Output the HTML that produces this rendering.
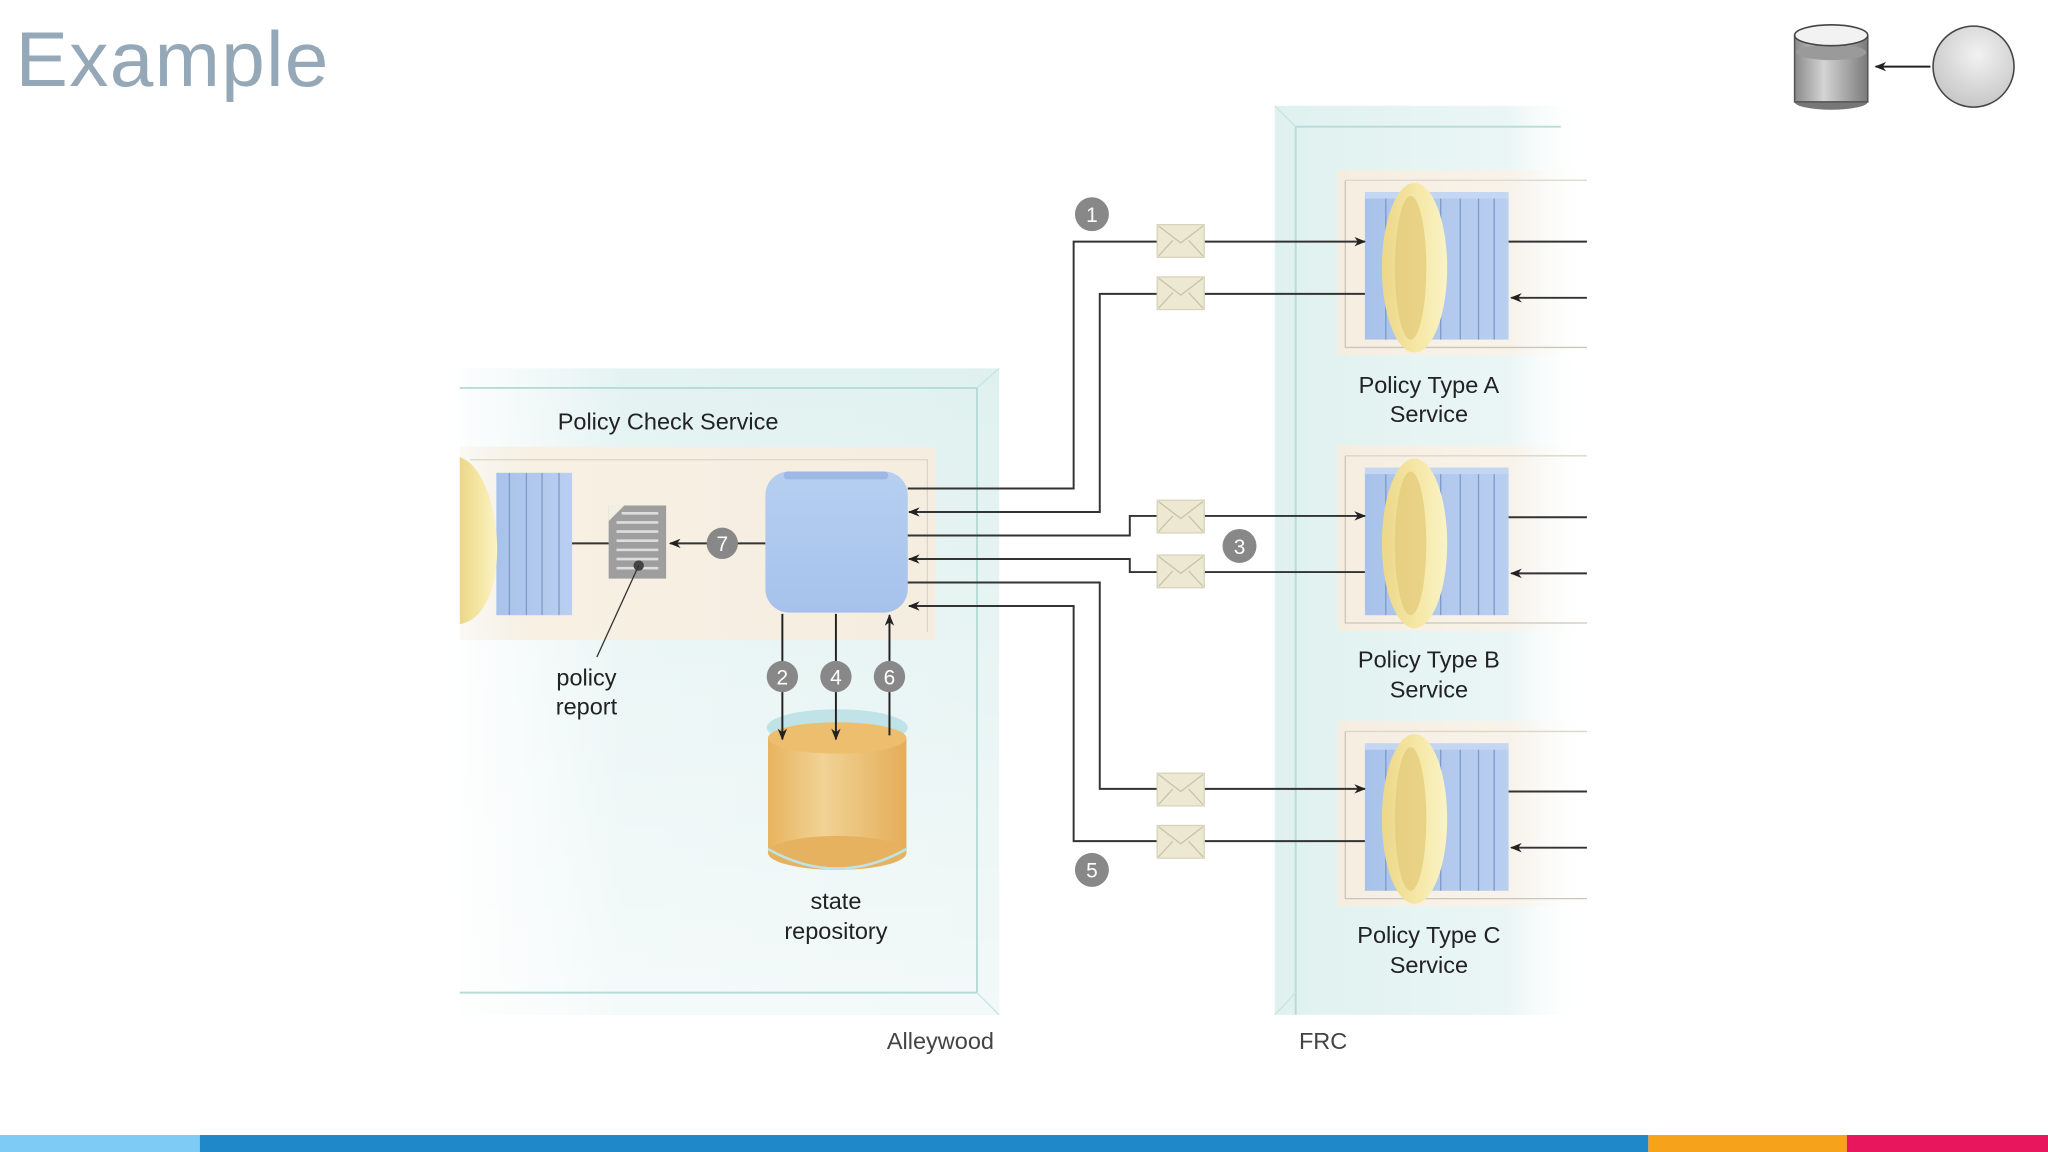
<!DOCTYPE html>
<html><head><meta charset="utf-8"><style>
html,body{margin:0;padding:0;background:#fff;}
svg{display:block;}
text{font-family:"Liberation Sans",sans-serif;}
</style></head><body>
<svg width="2048" height="1152" viewBox="0 0 1568 882" xmlns="http://www.w3.org/2000/svg">
<defs>
<linearGradient id="tealL" x1="0" x2="1" y1="0" y2="0">
<stop offset="0" stop-color="#e6f4f3" stop-opacity="0.1"/><stop offset="0.3" stop-color="#e4f3f2"/><stop offset="1" stop-color="#dff1ef"/></linearGradient>
<linearGradient id="tealR" x1="0" x2="1"><stop offset="0" stop-color="#dff1ef"/><stop offset="0.75" stop-color="#eaf6f5"/><stop offset="1" stop-color="#fff" stop-opacity="0"/></linearGradient>
<linearGradient id="tealV" x1="0" x2="0" y1="0" y2="1"><stop offset="0" stop-color="#fff" stop-opacity="0"/><stop offset="1" stop-color="#fff" stop-opacity="0.6"/></linearGradient>
<linearGradient id="beigeL" x1="0" x2="1"><stop offset="0" stop-color="#f6efe2" stop-opacity="0.3"/><stop offset="0.15" stop-color="#f7f0e3"/><stop offset="1" stop-color="#f5ede0"/></linearGradient>
<linearGradient id="beigeR" x1="0" x2="1"><stop offset="0" stop-color="#f5ede0"/><stop offset="0.7" stop-color="#f8f3ea"/><stop offset="1" stop-color="#fff" stop-opacity="0"/></linearGradient>
<linearGradient id="blueBox" x1="0" x2="0" y1="0" y2="1"><stop offset="0" stop-color="#b6cff1"/><stop offset="1" stop-color="#a6c2ec"/></linearGradient>
<linearGradient id="stack" x1="0" x2="1"><stop offset="0" stop-color="#a9c2ea"/><stop offset="1" stop-color="#b9cff0"/></linearGradient>
<linearGradient id="ring" x1="0" x2="1"><stop offset="0" stop-color="#ecd78a"/><stop offset="0.6" stop-color="#f6e9a8"/><stop offset="1" stop-color="#faf3c8"/></linearGradient>
<linearGradient id="orange" x1="0" x2="1"><stop offset="0" stop-color="#e8b35e"/><stop offset="0.4" stop-color="#f0d396"/><stop offset="1" stop-color="#e5ad57"/></linearGradient>
<linearGradient id="grayCyl" x1="0" x2="1"><stop offset="0" stop-color="#8a8a8a"/><stop offset="0.4" stop-color="#d4d4d4"/><stop offset="1" stop-color="#7a7a7a"/></linearGradient>
<radialGradient id="sphere" cx="0.55" cy="0.35" r="0.7"><stop offset="0" stop-color="#f2f2f2"/><stop offset="1" stop-color="#c4c4c4"/></radialGradient>
<marker id="ah" viewBox="0 0 10 10" refX="9" refY="5" markerWidth="9" markerHeight="9" orient="auto-start-reverse" markerUnits="userSpaceOnUse"><path d="M0,1 L10,5 L0,9 L3,5 z" fill="#222"/></marker>
<g id="env"><rect x="0" y="0" width="36" height="25" fill="#ede8d2" stroke="#d8d3bb" stroke-width="1"/><path d="M1,1 L18,14 L35,1 M1,24 L12,12 M35,24 L24,12" fill="none" stroke="#c9c4a8" stroke-width="1"/></g>
<g id="svc">
<rect x="1024" y="0" width="191" height="142" fill="url(#beigeR)"/>
<path d="M1030,8 V136 H1215" fill="none" stroke="#ccc6b8" stroke-width="1"/>
<path d="M1030,8 H1215" stroke="#ddd6c8" stroke-width="1"/>
<rect x="1045" y="20" width="110" height="110" fill="url(#stack)"/>
<path d="M1061,20v110 M1076,20v110 M1103,20v110 M1118,20v110 M1132,20v110 M1144,20v110" stroke="#7f9acb" stroke-width="1"/>
<rect x="1045" y="17" width="110" height="5" fill="#c5d6f2"/>
<ellipse cx="1083" cy="75" rx="25" ry="65" fill="url(#ring)"/>
<ellipse cx="1080" cy="75" rx="12" ry="55" fill="#e3c978" opacity="0.7"/>
</g>
</defs>

<text x="12" y="66" font-size="60" letter-spacing="1" fill="#94a8b8">Example</text>

<ellipse cx="1402" cy="78" rx="28" ry="6" fill="#777"/>
<rect x="1374" y="27" width="56" height="51" fill="url(#grayCyl)"/>
<ellipse cx="1402" cy="40" rx="27" ry="6" fill="#9a9a9a"/>
<rect x="1374" y="27" width="56" height="51" fill="none" stroke="#555" stroke-width="1.2"/>
<ellipse cx="1402" cy="27" rx="28" ry="8" fill="#f2f2f2" stroke="#444" stroke-width="1.2"/>
<line x1="1478" y1="51" x2="1436" y2="51" stroke="#222" stroke-width="1.5" marker-end="url(#ah)"/>
<circle cx="1511" cy="51" r="31" fill="url(#sphere)" stroke="#444" stroke-width="1.2"/>

<rect x="352" y="282" width="413" height="495" fill="url(#tealL)"/>
<rect x="352" y="282" width="413" height="495" fill="url(#tealV)"/>
<path d="M352,297 H748 V760 H352" fill="none" stroke="#b7dcd8" stroke-width="1.5"/>
<path d="M748,297 L765,282 M748,760 L765,777" stroke="#c7e5e2" stroke-width="1"/>
<text x="427" y="329" font-size="18" fill="#222">Policy Check Service</text>
<rect x="352" y="342" width="364" height="148" fill="url(#beigeL)"/>
<path d="M360,352 H710 V484" fill="none" stroke="#ddd5c5" stroke-width="1"/>
<rect x="380" y="362" width="58" height="109" fill="url(#stack)"/>
<path d="M390,362v109 M403,362v109 M415,362v109 M428,362v109" stroke="#7f9acb" stroke-width="1"/>
<path d="M352,350 C385,360 395,470 352,478 Z" fill="url(#ring)"/>
<rect x="466" y="387" width="44" height="56" fill="#9e9e9e"/>
<path d="M466,387 h12 l-12,12z" fill="#f2eee4"/>
<path d="M476,393h28 M472,400h32 M472,407h32 M472,414h32 M472,421h32 M472,428h32 M472,435h32" stroke="#ddd" stroke-width="2"/>
<circle cx="489" cy="433" r="4" fill="#444"/>
<line x1="489" y1="433" x2="457" y2="503" stroke="#333" stroke-width="1"/>
<text font-size="18" fill="#222" text-anchor="middle"><tspan x="449" y="525">policy</tspan><tspan x="449" y="547">report</tspan></text>
<line x1="438" y1="416" x2="466" y2="416" stroke="#333" stroke-width="1.5"/>
<line x1="586" y1="416" x2="513" y2="416" stroke="#333" stroke-width="1.5" marker-end="url(#ah)"/>
<circle cx="553" cy="416" r="12" fill="#888"/><text x="553" y="422" font-size="16" fill="#fff" text-anchor="middle">7</text>
<rect x="586" y="361" width="109" height="108" rx="18" fill="url(#blueBox)"/>
<rect x="600" y="361" width="80" height="6" rx="3" fill="#9db8e4"/>
<ellipse cx="641" cy="557" rx="54" ry="14" fill="#bfe3e6"/>
<rect x="588" y="565" width="106" height="88" fill="url(#orange)"/>
<ellipse cx="641" cy="653" rx="53" ry="13" fill="#e6b25f"/>
<path d="M588,650 q53,30 106,0" fill="none" stroke="#bfe3e6" stroke-width="2"/>
<ellipse cx="641" cy="565" rx="53" ry="12" fill="#edbe6e"/>
<text font-size="18" fill="#222" text-anchor="middle"><tspan x="640" y="696">state</tspan><tspan x="640" y="719">repository</tspan></text>
<line x1="599" y1="470" x2="599" y2="566" stroke="#222" stroke-width="1.5" marker-end="url(#ah)"/>
<line x1="640" y1="470" x2="640" y2="566" stroke="#222" stroke-width="1.5" marker-end="url(#ah)"/>
<line x1="681" y1="563" x2="681" y2="471" stroke="#222" stroke-width="1.5" marker-end="url(#ah)"/>
<circle cx="599" cy="518" r="12" fill="#888"/><text x="599" y="524" font-size="16" fill="#fff" text-anchor="middle">2</text>
<circle cx="640" cy="518" r="12" fill="#888"/><text x="640" y="524" font-size="16" fill="#fff" text-anchor="middle">4</text>
<circle cx="681" cy="518" r="12" fill="#888"/><text x="681" y="524" font-size="16" fill="#fff" text-anchor="middle">6</text>
<text x="720" y="803" font-size="18" fill="#444" text-anchor="middle">Alleywood</text>

<rect x="976" y="81" width="239" height="696" fill="url(#tealR)"/>
<path d="M992,777 V97 H1195" fill="none" stroke="#b7dcd8" stroke-width="1.5"/>
<path d="M976,81 L992,97 M976,777 L992,760" stroke="#c7e5e2" stroke-width="1"/>
<text x="1013" y="803" font-size="18" fill="#444" text-anchor="middle">FRC</text>

<use href="#svc" transform="translate(0,130)"/>
<use href="#svc" transform="translate(0,341)"/>
<use href="#svc" transform="translate(0,552)"/>
<g font-size="18" fill="#222" text-anchor="middle">
<text x="1094" y="301">Policy Type A</text><text x="1094" y="323">Service</text>
<text x="1094" y="511">Policy Type B</text><text x="1094" y="534">Service</text>
<text x="1094" y="722">Policy Type C</text><text x="1094" y="745">Service</text>
</g>
<g stroke="#333" stroke-width="1.5" fill="none">
<line x1="1155" y1="185" x2="1215" y2="185"/><line x1="1215" y1="228" x2="1157" y2="228" marker-end="url(#ah)"/>
<line x1="1155" y1="396" x2="1215" y2="396"/><line x1="1215" y1="439" x2="1157" y2="439" marker-end="url(#ah)"/>
<line x1="1155" y1="606" x2="1215" y2="606"/><line x1="1215" y1="649" x2="1157" y2="649" marker-end="url(#ah)"/>
</g>

<g stroke="#333" stroke-width="1.5" fill="none">
<path d="M695,374 H822 V185 H1045" marker-end="url(#ah)"/>
<path d="M1045,225 H842 V392 H696" marker-end="url(#ah)"/>
<path d="M695,410 H865 V395 H1045" marker-end="url(#ah)"/>
<path d="M1045,438 H865 V428 H696" marker-end="url(#ah)"/>
<path d="M695,446 H842 V604 H1045" marker-end="url(#ah)"/>
<path d="M1045,644 H822 V464 H696" marker-end="url(#ah)"/>
</g>
<use href="#env" x="886" y="172"/><use href="#env" x="886" y="212"/>
<use href="#env" x="886" y="383"/><use href="#env" x="886" y="425"/>
<use href="#env" x="886" y="592"/><use href="#env" x="886" y="632"/>
<circle cx="836" cy="164" r="13" fill="#888"/><text x="836" y="170" font-size="16" fill="#fff" text-anchor="middle">1</text>
<circle cx="949" cy="418" r="13" fill="#888"/><text x="949" y="424" font-size="16" fill="#fff" text-anchor="middle">3</text>
<circle cx="836" cy="666" r="13" fill="#888"/><text x="836" y="672" font-size="16" fill="#fff" text-anchor="middle">5</text>

<rect x="0" y="869" width="153" height="13" fill="#7ecbf5"/>
<rect x="153" y="869" width="1109" height="13" fill="#1e88c8"/>
<rect x="1262" y="869" width="152" height="13" fill="#f7a21b"/>
<rect x="1414" y="869" width="154" height="13" fill="#e8175d"/>
</svg>
</body></html>
